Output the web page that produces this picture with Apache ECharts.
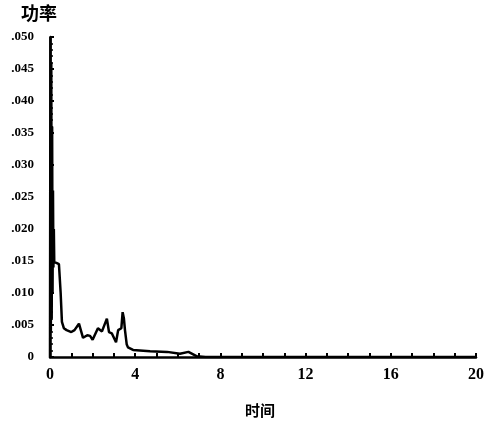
<!DOCTYPE html>
<html>
<head>
<meta charset="utf-8">
<script src="https://cdn.jsdelivr.net/npm/echarts@6/dist/echarts.min.js"></script>
<style>
  html, body { margin: 0; padding: 0; background: #fff; }
</style>
</head>
<body>
<!-- 功率曲线 -->
<div id="chart" style="width: 492px; height: 434px"></div>
<script>
// 时间 (横轴)
const times = [
  0, 0.02, 0.04, 0.06, 0.08, 0.10, 0.12, 0.14, 0.16, 0.18, 0.20,
  0.30, 0.42, 0.50, 0.56, 0.65, 0.78, 1.0, 1.15, 1.36, 1.55, 1.75,
  1.88, 2.0, 2.25, 2.44, 2.67, 2.77, 2.9, 3.1, 3.2, 3.35, 3.41,
  3.47, 3.52, 3.6, 3.66, 3.9, 4.7, 5.5, 6.1, 6.5, 6.9, 7.3, 8, 10,
  12, 14, 16, 18, 20
];
// 功率 (纵轴)
const powers = [
  0, 0.050, 0.004, 0.046, 0.006, 0.036, 0.010, 0.026, 0.014, 0.020, 0.0148,
  0.0147, 0.0145, 0.010, 0.0055, 0.0045, 0.0042, 0.0039, 0.0042, 0.0052, 0.0030, 0.0034,
  0.0033, 0.0027, 0.0045, 0.0040, 0.0060, 0.0039, 0.0037, 0.0023, 0.0042, 0.0045, 0.0070,
  0.0060, 0.0042, 0.0020, 0.0015, 0.0011, 0.0009, 0.0008, 0.0005, 0.0008, 0.0001, 0, 0, 0,
  0, 0, 0, 0, 0
];
const xLabelValues = [0, 4, 8, 12, 16, 20];

const serif = 'Liberation Serif';
const chart = echarts.init(document.getElementById('chart'));
chart.setOption({
  animation: false,
  graphic: [
    {
      type: 'text', left: 21, top: 4,
      style: { text: '功率', font: 'bold 18px "Noto Sans CJK SC"', fill: '#000' }
    },
    {
      type: 'text', left: 245, top: 403,
      style: { text: '时间', font: 'bold 15px "Noto Sans CJK SC"', fill: '#000' }
    }
  ],
  grid: { left: 50, right: 16, top: 37, bottom: 77 },
  xAxis: {
    type: 'value',
    min: 0,
    max: 20,
    interval: 1,
    splitLine: { show: false },
    axisLine: { lineStyle: { color: '#000', width: 2.5 } },
    axisTick: { inside: true, length: 4, lineStyle: { color: '#000', width: 2 } },
    axisLabel: {
      color: '#000', fontFamily: serif, fontWeight: 'bold', fontSize: 16, margin: 10,
      formatter: (v) => (xLabelValues.includes(v) ? String(v) : '')
    }
  },
  yAxis: {
    type: 'value',
    min: 0,
    max: 0.05,
    interval: 0.005,
    splitLine: { show: false },
    axisLine: { show: true, lineStyle: { color: '#000', width: 2.5 } },
    axisTick: { show: true, inside: true, length: 4, lineStyle: { color: '#000', width: 2 } },
    minorTick: { show: true, splitNumber: 5, length: 3, lineStyle: { color: '#000', width: 1.5 } },
    axisLabel: {
      color: '#000', fontFamily: serif, fontWeight: 'bold', fontSize: 13, margin: 16,
      formatter: (v) => (v === 0 ? '0' : v.toFixed(3).slice(1))
    }
  },
  series: [{
    type: 'line',
    data: times.map((t, i) => [t, powers[i]]),
    showSymbol: false,
    lineStyle: { color: '#000', width: 2.5 }
  }]
});
</script>
</body>
</html>
